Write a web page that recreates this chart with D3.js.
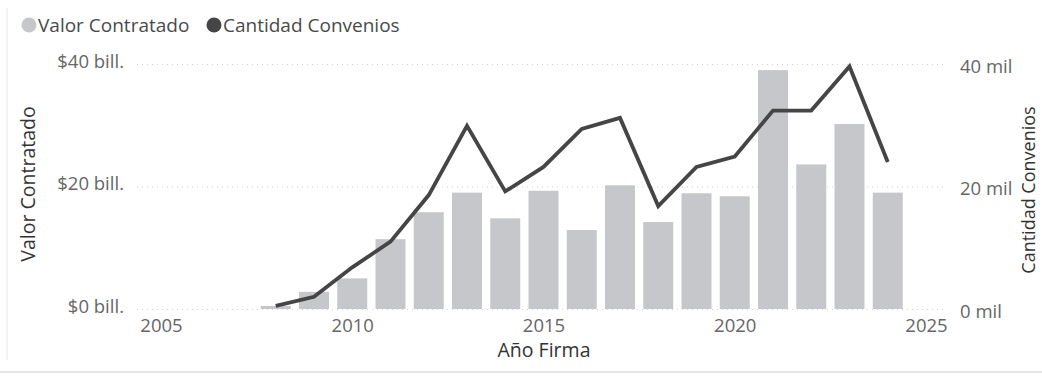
<!DOCTYPE html>
<html>
<head>
<meta charset="utf-8">
<script src="https://cdn.jsdelivr.net/npm/d3@7/dist/d3.min.js"></script>
<style>
  html, body { margin: 0; padding: 0; background: #fff; }
  svg { display: block; font-family: "Open Sans", "Noto Sans", sans-serif; }
</style>
</head>
<body>
<svg id="chart" width="1042" height="377"></svg>
<script>
// Contract value (billions) and number of agreements (thousands) by signing year
const years = [2008, 2009, 2010, 2011, 2012, 2013, 2014, 2015, 2016, 2017, 2018, 2019, 2020, 2021, 2022, 2023, 2024];
const valorContratado = [0.5, 2.8, 5.0, 11.4, 15.8, 19.0, 14.8, 19.3, 12.9, 20.2, 14.2, 18.9, 18.4, 39.0, 23.6, 30.2, 19.0];
const cantidadConvenios = [0.5, 2.0, 6.8, 11.0, 18.6, 29.9, 19.2, 23.2, 29.4, 31.2, 16.8, 23.2, 24.9, 32.4, 32.4, 39.6, 24.0];
const xTicks = [2005, 2010, 2015, 2020, 2025];
const leftTicks = [0, 20, 40];
const rightTicks = [0, 20, 40];
const legendItems = ["Valor Contratado", "Cantidad Convenios"];

const svg = d3.select("#chart");

const x = d3.scaleLinear().domain([2005, 2025]).range([161, 926]);
const yLeft = d3.scaleLinear().domain([0, 40]).range([309, 64]);
const yRight = d3.scaleLinear().domain([0, 40]).range([309, 64]);

const gridLeft = 137, gridRight = 943;
const barWidth = 30;
const barColor = "#c6c7ca";
const lineColor = "#454545";
const tickFont = 18.5;
const titleFont = 19.5;

// faint frame edges
svg.append("line").attr("x1", 7).attr("x2", 7).attr("y1", 8).attr("y2", 360)
  .attr("stroke", "#e6e6e6").attr("stroke-width", 1);
svg.append("line").attr("x1", 0).attr("x2", 1042).attr("y1", 372).attr("y2", 372)
  .attr("stroke", "#dcdcdc").attr("stroke-width", 1.5);

// horizontal gridlines (shared by both value axes)
const grid = svg.append("g").attr("transform", `translate(${gridLeft},0)`)
  .call(d3.axisLeft(yLeft).tickValues(leftTicks).tickSize(-(gridRight - gridLeft)).tickFormat(""));
grid.select(".domain").remove();
grid.selectAll(".tick line").attr("stroke", "#d2d2d2").attr("stroke-dasharray", "1,4").attr("stroke-width", 1.2);

// left axis labels
const axL = svg.append("g").attr("transform", "translate(124,0)")
  .call(d3.axisLeft(yLeft).tickValues(leftTicks).tickSize(0).tickPadding(0).tickFormat(d => `$${d} bill.`));
axL.select(".domain").remove();
axL.selectAll("text").attr("font-family", "Open Sans, sans-serif").attr("font-size", tickFont).attr("fill", "#666");
axL.selectAll(".tick").attr("transform", d => `translate(0,${yLeft(d) - 2})`);

// right axis labels
const axR = svg.append("g").attr("transform", "translate(960,0)")
  .call(d3.axisRight(yRight).tickValues(rightTicks).tickSize(0).tickPadding(0).tickFormat(d => `${d} mil`));
axR.select(".domain").remove();
axR.selectAll("text").attr("font-family", "Open Sans, sans-serif").attr("font-size", tickFont).attr("fill", "#666");
axR.selectAll(".tick").attr("transform", d => `translate(0,${yRight(d) + 3})`);

// bottom axis labels
const axB = svg.append("g").attr("transform", "translate(0,309)")
  .call(d3.axisBottom(x).tickValues(xTicks).tickSize(0).tickPadding(10).tickFormat(d3.format("d")));
axB.select(".domain").remove();
axB.selectAll("text").attr("font-family", "Open Sans, sans-serif").attr("font-size", tickFont).attr("fill", "#666");

// bars: Valor Contratado
svg.append("g").selectAll("rect").data(years).join("rect")
  .attr("x", (d) => x(d) - barWidth / 2)
  .attr("width", barWidth)
  .attr("y", (d, i) => yLeft(valorContratado[i]))
  .attr("height", (d, i) => yLeft(0) - yLeft(valorContratado[i]))
  .attr("fill", barColor);

// line: Cantidad Convenios
const line = d3.line().x(d => x(d[0])).y(d => yRight(d[1]));
svg.append("path")
  .datum(years.map((yr, i) => [yr, cantidadConvenios[i]]))
  .attr("d", line)
  .attr("fill", "none")
  .attr("stroke", lineColor)
  .attr("stroke-width", 3.8)
  .attr("stroke-linejoin", "miter");

// axis titles
svg.append("text").attr("transform", "translate(35,184) rotate(-90)")
  .attr("text-anchor", "middle").attr("font-size", titleFont).attr("fill", "#333")
  .text("Valor Contratado");
svg.append("text").attr("transform", "translate(1035,190) rotate(-90)")
  .attr("text-anchor", "middle").attr("font-size", 18).attr("fill", "#333")
  .text("Cantidad Convenios");
svg.append("text").attr("x", 544).attr("y", 357)
  .attr("text-anchor", "middle").attr("font-size", titleFont).attr("fill", "#333")
  .text("Año Firma");

// legend
const legendColors = [barColor, lineColor];
const legendX = [29, 214];
const lg = svg.append("g");
legendItems.forEach((name, i) => {
  lg.append("circle").attr("cx", legendX[i]).attr("cy", 25).attr("r", 7.5).attr("fill", legendColors[i]);
  lg.append("text").attr("x", legendX[i] + 9).attr("y", 25).attr("dy", "0.35em")
    .attr("font-size", 19).attr("fill", "#4a4a4a").text(name);
});
</script>
</body>
</html>
